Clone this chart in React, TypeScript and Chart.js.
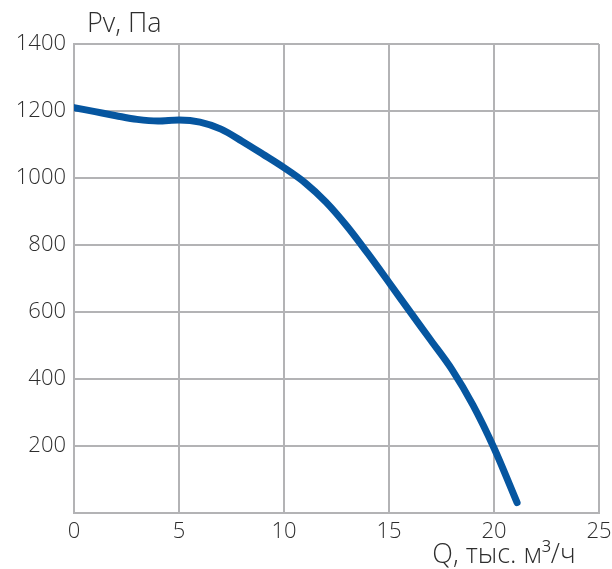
import React, { useEffect, useRef } from "react";
import { Chart, registerables } from "chart.js";

Chart.register(...registerables);

const flowQ: number[] = [0, 1, 2, 3, 4, 5, 6, 7, 8, 9, 10, 11, 12, 13, 14, 15, 16, 17, 18, 19, 20, 21.1];
const pressurePv: number[] = [1210, 1198, 1186, 1175, 1170, 1173, 1167, 1146, 1110, 1071, 1031, 986, 928, 856, 774, 688, 601, 515, 428, 322, 194, 31];
const xTickValues: number[] = [0, 5, 10, 15, 20, 25];
const yTickValues: number[] = [0, 200, 400, 600, 800, 1000, 1200, 1400];
const yTitle = "Pv, Па";
const xTitle = "Q, тыс. м³/ч";

const FONT = "'Open Sans', Lato, sans-serif";
const GRID = "#b3b3b5";
const TEXT = "#2e2e2e";

const titlesPlugin = {
  id: "cornerTitles",
  afterDraw(chart: any) {
    const { ctx, chartArea } = chart;
    ctx.save();
    ctx.fillStyle = TEXT;
    ctx.font = `300 27px ${FONT}`;
    ctx.textBaseline = "alphabetic";
    ctx.textAlign = "left";
    ctx.fillText(yTitle, chartArea.left + 13, 32);
    ctx.textAlign = "center";
    ctx.fillText(xTitle, 504, 563);
    ctx.restore();
  },
};

export default function App() {
  const ref = useRef<HTMLCanvasElement | null>(null);
  useEffect(() => {
    if (!ref.current) return;
    const chart = new Chart(ref.current, {
      type: "line",
      data: {
        datasets: [
          {
            data: flowQ.map((q, i) => ({ x: q, y: pressurePv[i] })),
            borderColor: "#0656a0",
            borderWidth: 7,
            borderCapStyle: "round",
            borderJoinStyle: "round",
            pointRadius: 0,
            cubicInterpolationMode: "monotone",
            fill: false,
          },
        ],
      },
      options: {
        animation: false,
        responsive: false,
        maintainAspectRatio: false,
        layout: { padding: { top: 44, right: 13, left: 0, bottom: 0 } },
        plugins: { legend: { display: false }, tooltip: { enabled: false }, title: { display: false } },
        scales: {
          x: {
            type: "linear",
            min: 0,
            max: 25,
            afterBuildTicks: (s: any) => {
              s.ticks = xTickValues.map((v) => ({ value: v }));
            },
            afterFit: (s: any) => {
              s.height = 56;
              s.paddingRight = 0;
              s.paddingLeft = 0;
            },
            grid: { color: GRID, lineWidth: 2, drawTicks: false },
            border: { color: GRID, width: 2 },
            ticks: { color: TEXT, font: { family: FONT, size: 22, weight: "300" }, padding: 6, maxRotation: 0 },
          },
          y: {
            type: "linear",
            min: 0,
            max: 1400,
            afterBuildTicks: (s: any) => {
              s.ticks = yTickValues.map((v) => ({ value: v }));
            },
            afterFit: (s: any) => {
              s.width = 74;
              s.paddingTop = 0;
              s.paddingBottom = 0;
            },
            grid: { color: GRID, lineWidth: 2, drawTicks: false },
            border: { color: GRID, width: 2 },
            ticks: {
              color: TEXT,
              font: { family: FONT, size: 22, weight: "300" },
              padding: 8,
              callback: (v: any) => (v === 0 ? "" : String(v)),
            },
          },
        },
      },
      plugins: [titlesPlugin],
    } as any);
    return () => chart.destroy();
  }, []);
  return (
    <div style={{ position: "fixed", left: 0, top: 0, width: 612, height: 569, background: "#fff" }}>
      <canvas ref={ref} width={612} height={569} style={{ width: 612, height: 569 }} />
    </div>
  );
}
